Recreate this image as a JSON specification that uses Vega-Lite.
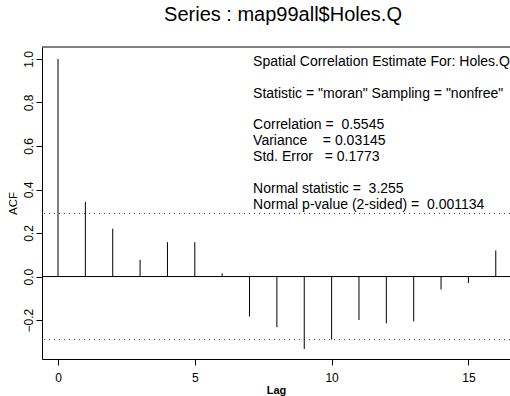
{
  "$schema": "https://vega.github.io/schema/vega-lite/v6.json",
  "autosize": "none",
  "padding": {"left": 42, "top": 47, "right": 0, "bottom": 37},
  "width": 468,
  "height": 312,
  "background": "white",
  "config": {"view": {"stroke": null}, "font": "Liberation Sans", "text": {"align": "left", "baseline": "alphabetic", "fontSize": 14, "lineHeight": 16, "font": "Liberation Sans", "color": "black"}},
  "title": {"text": "Series : map99all$Holes.Q", "fontSize": 20, "fontWeight": "normal", "font": "Liberation Sans", "color": "black", "anchor": "middle", "offset": 22, "dx": 7},
  "datasets": {
    "acf": [
      {"lag": 0, "acf": 1.0},
      {"lag": 1, "acf": 0.343},
      {"lag": 2, "acf": 0.22},
      {"lag": 3, "acf": 0.077},
      {"lag": 4, "acf": 0.158},
      {"lag": 5, "acf": 0.158},
      {"lag": 6, "acf": 0.015},
      {"lag": 7, "acf": -0.184},
      {"lag": 8, "acf": -0.233},
      {"lag": 9, "acf": -0.333},
      {"lag": 10, "acf": -0.29},
      {"lag": 11, "acf": -0.2},
      {"lag": 12, "acf": -0.215},
      {"lag": 13, "acf": -0.206},
      {"lag": 14, "acf": -0.06},
      {"lag": 15, "acf": -0.03},
      {"lag": 16, "acf": 0.12}
    ],
    "bounds": [{"ci": 0.29}, {"ci": -0.29}]
  },
  "layer": [
    {
      "data": {"name": "bounds"},
      "mark": {"type": "rule", "color": "#333", "strokeWidth": 1, "strokeDash": [1, 4]},
      "encoding": {"y": {"field": "ci", "type": "quantitative"}}
    },
    {
      "data": {"values": [{}]},
      "mark": {"type": "rule", "color": "black", "strokeWidth": 1},
      "encoding": {"y": {"datum": 0}}
    },
    {
      "data": {"values": [{}]},
      "mark": {"type": "rule", "color": "black", "strokeWidth": 1},
      "encoding": {"y": {"datum": 1.055}}
    },
    {
      "data": {"name": "acf"},
      "mark": {"type": "rule", "color": "black", "strokeWidth": 1},
      "encoding": {
        "x": {
          "field": "lag", "type": "quantitative",
          "scale": {"domain": [-0.585, 16.52], "nice": false, "zero": false},
          "axis": {"title": "Lag", "values": [0, 5, 10, 15], "grid": false, "domainColor": "black", "tickColor": "black", "tickSize": 6, "labelPadding": 7, "labelFontSize": 12, "labelColor": "black", "labelFont": "Liberation Sans", "titleFont": "Liberation Sans", "titleFontSize": 11, "titleFontWeight": "bold", "titleColor": "black", "titlePadding": 1, "labelFlush": false}
        },
        "y": {
          "field": "acf", "type": "quantitative",
          "scale": {"domain": [-0.379, 1.055], "nice": false, "zero": false},
          "axis": {"title": "ACF", "values": [-0.2, 0, 0.2, 0.4, 0.6, 0.8, 1.0], "format": ".1f", "grid": false, "domainColor": "black", "tickColor": "black", "tickSize": 6, "labelAngle": -90, "labelAlign": "center", "labelBaseline": "alphabetic", "labelPadding": 4, "labelFontSize": 12, "labelColor": "black", "labelFont": "Liberation Sans", "titleFont": "Liberation Sans", "titleFontSize": 11.5, "titleFontWeight": "normal", "titleColor": "black", "titlePadding": 4, "labelFlush": false}
        },
        "y2": {"datum": 0}
      }
    },
    {
      "data": {"values": [{}]},
      "mark": {"type": "text", "text": "Spatial Correlation Estimate For: Holes.Q"},
      "encoding": {"x": {"datum": 7.13}, "y": {"datum": 0.968}}
    },
    {
      "data": {"values": [{}]},
      "mark": {"type": "text", "text": "Statistic = \"moran\" Sampling = \"nonfree\""},
      "encoding": {"x": {"datum": 7.13}, "y": {"datum": 0.822}}
    },
    {
      "data": {"values": [{}]},
      "mark": {"type": "text", "text": ["Correlation =\u00a0\u00a00.5545", "Variance\u00a0\u00a0\u00a0\u00a0= 0.03145", "Std. Error\u00a0\u00a0\u00a0= 0.1773"]},
      "encoding": {"x": {"datum": 7.13}, "y": {"datum": 0.677}}
    },
    {
      "data": {"values": [{}]},
      "mark": {"type": "text", "text": ["Normal statistic =\u00a0\u00a03.255", "Normal p-value (2-sided) =\u00a0\u00a00.001134"]},
      "encoding": {"x": {"datum": 7.13}, "y": {"datum": 0.385}}
    }
  ]
}
